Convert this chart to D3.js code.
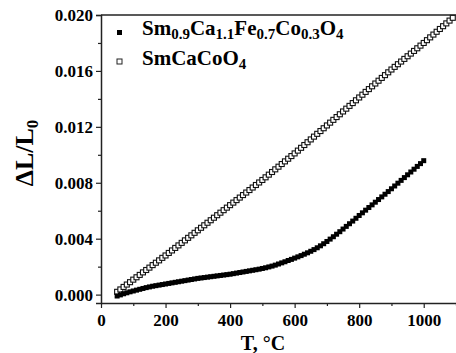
<!DOCTYPE html>
<html>
<head>
<meta charset="utf-8">
<script src="https://cdn.jsdelivr.net/npm/d3@7"></script>
<style>
  body { margin: 0; background: #fff; }
  svg { display: block; }
  text { font-family: "Liberation Serif", "Times New Roman", serif; font-weight: bold; fill: #000; }
</style>
</head>
<body>
<div class="chart"></div>
<script>
// Sm0.9Ca1.1Fe0.7Co0.3O4 (filled squares)
const tempFilled = [50,60,70,80,90,100,110,120,130,140,150,160,170,180,190,200,210,220,230,240,250,260,270,280,290,300,310,320,330,340,350,360,370,380,390,400,410,420,430,440,450,460,470,480,490,500,510,520,530,540,550,560,570,580,590,600,610,620,630,640,650,660,670,680,690,700,710,720,730,740,750,760,770,780,790,800,810,820,830,840,850,860,870,880,890,900,910,920,930,940,950,960,970,980,990,1000];
const dlFilled = [-0.00010,-0.00002,0.00006,0.00013,0.00020,0.00026,0.00032,0.00038,0.00044,0.00050,0.00055,0.00060,0.00064,0.00068,0.00072,0.00076,0.00080,0.00084,0.00088,0.00092,0.00096,0.00100,0.00104,0.00108,0.00112,0.00116,0.00119,0.00122,0.00125,0.00128,0.00131,0.00134,0.00137,0.00140,0.00143,0.00146,0.00150,0.00154,0.00158,0.00162,0.00166,0.00170,0.00174,0.00178,0.00182,0.00187,0.00192,0.00198,0.00204,0.00211,0.00219,0.00227,0.00235,0.00244,0.00252,0.00261,0.00270,0.00279,0.00289,0.00299,0.00310,0.00322,0.00335,0.00349,0.00364,0.00380,0.00397,0.00414,0.00432,0.00450,0.00469,0.00488,0.00507,0.00526,0.00546,0.00566,0.00585,0.00604,0.00623,0.00642,0.00661,0.00680,0.00699,0.00718,0.00737,0.00757,0.00777,0.00797,0.00817,0.00837,0.00857,0.00877,0.00897,0.00917,0.00937,0.00958];

// SmCaCoO4 (open squares)
const tempOpen = [50,60,70,80,90,100,110,120,130,140,150,160,170,180,190,200,210,220,230,240,250,260,270,280,290,300,310,320,330,340,350,360,370,380,390,400,410,420,430,440,450,460,470,480,490,500,510,520,530,540,550,560,570,580,590,600,610,620,630,640,650,660,670,680,690,700,710,720,730,740,750,760,770,780,790,800,810,820,830,840,850,860,870,880,890,900,910,920,930,940,950,960,970,980,990,1000,1010,1020,1030,1040,1050,1060,1070,1080,1090];
const dlOpen = [0.00020,0.00037,0.00055,0.00072,0.00089,0.00107,0.00124,0.00141,0.00159,0.00176,0.00193,0.00211,0.00228,0.00245,0.00263,0.00280,0.00298,0.00316,0.00334,0.00352,0.00370,0.00388,0.00406,0.00424,0.00442,0.00460,0.00478,0.00496,0.00514,0.00532,0.00550,0.00568,0.00586,0.00604,0.00622,0.00640,0.00658,0.00676,0.00694,0.00712,0.00730,0.00748,0.00766,0.00784,0.00802,0.00820,0.00839,0.00858,0.00877,0.00896,0.00915,0.00934,0.00953,0.00972,0.00991,0.01010,0.01030,0.01050,0.01070,0.01090,0.01110,0.01130,0.01150,0.01170,0.01190,0.01210,0.01230,0.01250,0.01270,0.01290,0.01310,0.01330,0.01350,0.01370,0.01390,0.01410,0.01430,0.01450,0.01470,0.01490,0.01510,0.01530,0.01550,0.01570,0.01590,0.01610,0.01629,0.01648,0.01667,0.01686,0.01705,0.01724,0.01743,0.01762,0.01781,0.01800,0.01820,0.01840,0.01860,0.01880,0.01900,0.01920,0.01940,0.01960,0.01980];

const xTicks = [0, 200, 400, 600, 800, 1000];
const xMinor = [100, 300, 500, 700, 900, 1100];
const yTicks = [0.000, 0.004, 0.008, 0.012, 0.016, 0.020];
const yMinor = [0.002, 0.006, 0.010, 0.014, 0.018];

const W = 456, H = 353;
const margin = { top: 15, right: 0, bottom: 50, left: 101 };
const height = H - margin.top - margin.bottom;

const svg = d3.select('.chart')
  .append('svg')
    .attr('width', W)
    .attr('height', H);

const x = d3.scaleLinear().domain([0, 1100]).range([margin.left, W]);
const y = d3.scaleLinear().domain([-0.0006, 0.020]).range([margin.top + height, margin.top]);

// series
const sq = 5;
svg.append('g')
  .selectAll('rect')
  .data(tempOpen.map((t, i) => [t, dlOpen[i]]))
  .enter()
  .append('rect')
    .attr('x', d => x(d[0]) - sq / 2)
    .attr('y', d => y(d[1]) - sq / 2)
    .attr('width', sq)
    .attr('height', sq)
    .attr('fill', '#fff')
    .attr('stroke', '#111')
    .attr('stroke-width', 1.1);

svg.append('g')
  .selectAll('rect')
  .data(tempFilled.map((t, i) => [t, dlFilled[i]]))
  .enter()
  .append('rect')
    .attr('x', d => x(d[0]) - sq / 2)
    .attr('y', d => y(d[1]) - sq / 2)
    .attr('width', sq)
    .attr('height', sq)
    .attr('fill', '#000');

// axes
svg.append('g')
  .attr('transform', `translate(${margin.left},0)`)
  .call(d3.axisLeft(y).tickValues(yTicks).tickSize(5).tickPadding(3).tickFormat(d3.format('.3f')));
svg.append('g')
  .attr('transform', `translate(${margin.left},0)`)
  .call(d3.axisLeft(y).tickValues(yMinor).tickSize(3).tickFormat(''))
  .select('.domain').remove();

svg.append('g')
  .attr('transform', `translate(0,${margin.top + height})`)
  .call(d3.axisBottom(x).tickValues(xTicks).tickSize(5).tickPadding(6).tickSizeOuter(0).tickFormat(d3.format('d')));
svg.append('g')
  .attr('transform', `translate(0,${margin.top + height})`)
  .call(d3.axisBottom(x).tickValues(xMinor).tickSize(3).tickFormat(''))
  .select('.domain').remove();

svg.selectAll('.domain').attr('stroke', '#222').attr('stroke-width', 1.5);
svg.selectAll('.tick line').attr('stroke', '#222').attr('stroke-width', 1.2);
svg.selectAll('.tick text')
  .style('font-family', '"Liberation Serif", serif')
  .style('font-weight', 'bold')
  .style('font-size', '17px')
  .attr('fill', '#000');

// top frame line
svg.append('line')
  .attr('x1', margin.left).attr('x2', W)
  .attr('y1', margin.top).attr('y2', margin.top)
  .attr('stroke', '#222').attr('stroke-width', 1.5);

// axis titles
svg.append('text')
  .attr('x', 263)
  .attr('y', 350)
  .attr('text-anchor', 'middle')
  .style('font-size', '20px')
  .text('T, °C');

const yTitle = svg.append('text')
  .attr('transform', 'translate(33,153) rotate(-90)')
  .attr('text-anchor', 'middle')
  .style('font-size', '26px');
yTitle.append('tspan').text('ΔL/L');
yTitle.append('tspan').attr('dy', 5).style('font-size', '17px').text('0');

// legend
function formula(g, parts, xPos, yPos) {
  const t = g.append('text').attr('x', xPos).attr('y', yPos).style('font-size', '21px');
  let shifted = false;
  parts.forEach(p => {
    const sub = p[1];
    const ts = t.append('tspan').text(p[0]);
    if (sub && !shifted) { ts.attr('dy', 4).style('font-size', '15px'); shifted = true; }
    else if (!sub && shifted) { ts.attr('dy', -4); shifted = false; }
    else if (sub) ts.style('font-size', '15px');
  });
}

const legend = svg.append('g');
legend.append('rect').attr('x', 117).attr('y', 30).attr('width', 5).attr('height', 5).attr('fill', '#000');
legend.append('rect').attr('x', 117).attr('y', 59).attr('width', 5).attr('height', 5)
  .attr('fill', '#fff').attr('stroke', '#222').attr('stroke-width', 1);
formula(legend, [['Sm'], ['0.9', 1], ['Ca'], ['1.1', 1], ['Fe'], ['0.7', 1], ['Co'], ['0.3', 1], ['O'], ['4', 1]], 142, 35);
formula(legend, [['SmCaCoO'], ['4', 1]], 142, 65);
</script>
</body>
</html>
